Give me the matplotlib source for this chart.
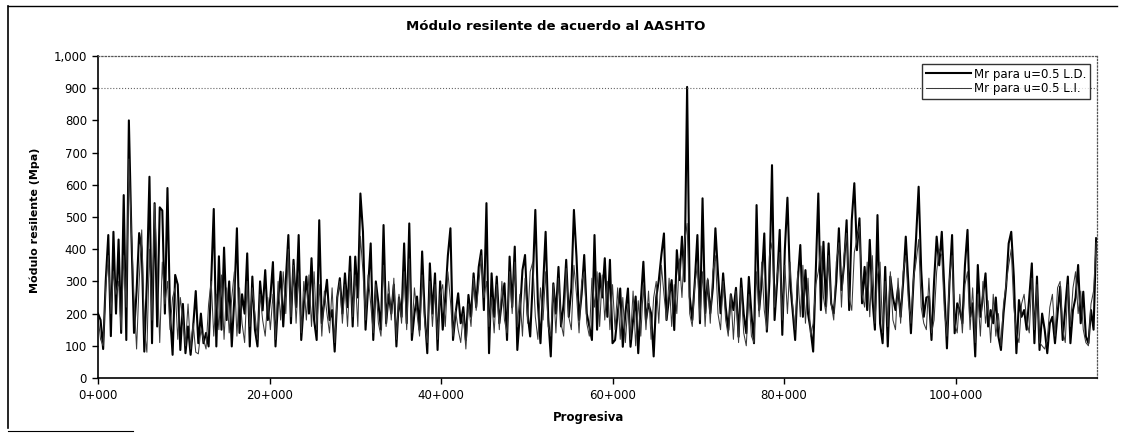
import numpy as np
import matplotlib
matplotlib.use("Agg")
import matplotlib.pyplot as plt
from matplotlib.lines import Line2D
from matplotlib.ticker import FuncFormatter

# Mr values (MPa), one every 300 m of progresiva
step = 300

mr_ld = [
    # 0+000 .. 19+800
    200, 180, 90, 300, 444, 130, 454, 200, 430, 140,
    568, 118, 800, 440, 140, 270, 450, 400, 82, 300,
    625, 108, 543, 160, 530, 520, 200, 590, 200, 72,
    320, 290, 87, 230, 77, 160, 72, 160, 270, 108,
    200, 108, 140, 98, 300, 525, 98, 378, 150, 405,
    180, 300, 98, 250, 465, 140, 260, 200, 387, 98,
    315, 150, 98, 300, 210, 335, 180,
    # 20+100 .. 39+900
    250, 360, 98, 240, 330, 160, 300, 444, 170, 367,
    220, 444, 118, 230, 315, 200, 372, 180, 118, 490,
    170, 240, 305, 180, 211, 82, 250, 310, 200, 325,
    220, 377, 160, 377, 250, 573, 454, 150, 280, 418,
    118, 300, 232, 150, 475, 170, 260, 200, 290, 98,
    250, 190, 418, 170, 480, 118, 200, 253, 150, 393,
    200, 77, 356, 200, 325, 87, 300,
    # 40+200 .. 60+000
    150, 250, 380, 465, 118, 200, 263, 170, 220, 118,
    258, 190, 325, 220, 345, 397, 211, 543, 77, 325,
    190, 315, 170, 240, 294, 118, 377, 220, 408, 87,
    200, 335, 382, 200, 129, 300, 522, 232, 108, 280,
    454, 190, 67, 294, 200, 345, 160, 230, 367, 190,
    280, 522, 377, 180, 260, 382, 200, 160, 118, 444,
    150, 325, 250, 372, 190, 367, 108,
    # 60+300 .. 80+100
    118, 200, 278, 97, 200, 278, 97, 180, 253, 77,
    237, 361, 180, 230, 201, 67, 250, 304, 382, 449,
    180, 250, 304, 149, 397, 304, 439, 300, 904, 253,
    180, 300, 444, 170, 558, 201, 304, 201, 280, 465,
    325, 201, 325, 220, 149, 260, 211, 280, 128, 309,
    200, 139, 314, 200, 108, 537, 211, 300, 449, 144,
    300, 661, 180, 300, 460, 134, 400,
    # 80+400 .. 100+200
    560, 300, 211, 118, 300, 413, 190, 335, 200, 150,
    82, 325, 573, 211, 423, 222, 418, 232, 201, 300,
    465, 273, 350, 490, 211, 490, 605, 397, 496, 232,
    345, 211, 429, 250, 150, 506, 170, 108, 345, 98,
    315, 250, 211, 280, 190, 300, 439, 294, 139, 300,
    434, 594, 335, 190, 250, 253, 118, 300, 439, 350,
    454, 273, 92, 300, 444, 139, 232,
    # 100+500 .. 116+400
    211, 170, 350, 460, 190, 232, 67, 351, 190, 253,
    325, 160, 211, 170, 250, 129, 87, 201, 284, 418,
    454, 315, 77, 242, 190, 211, 150, 250, 356, 108,
    315, 87, 200, 150, 77, 170, 190, 108, 200, 284,
    118, 220, 315, 108, 211, 250, 351, 170, 268, 129,
    108, 211, 150, 434,
]

mr_li = [
    # 0+000 .. 19+800
    190, 120, 100, 280, 380, 200, 330, 260, 300, 150,
    380, 220, 680, 450, 250, 90, 300, 460, 150, 80,
    400, 180, 540, 330, 110, 360, 230, 300, 150, 250,
    280, 120, 250, 180, 100, 230, 90, 170, 80, 75,
    150, 120, 90, 230, 300, 130, 260, 150, 320, 120,
    280, 140, 250, 330, 130, 280, 170, 110, 300, 160,
    280, 200, 120, 260, 180, 130, 250,
    # 20+100 .. 39+900
    150, 260, 120, 300, 180, 330, 200, 400, 190, 350,
    170, 320, 140, 300, 180, 320, 160, 330, 150, 290,
    130, 270, 200, 140, 280, 110, 250, 300, 170, 290,
    160, 330, 190, 320, 160, 440, 330, 180, 320, 230,
    140, 290, 170, 130, 350, 160, 300, 180, 310, 120,
    260, 170, 330, 150, 370, 140, 280, 200, 130, 320,
    170, 110, 300, 160, 290, 120, 260,
    # 40+200 .. 60+000
    290, 160, 330, 240, 130, 210, 150, 110, 200, 90,
    230, 160, 310, 210, 290, 380, 250, 300, 160, 250,
    140, 290, 150, 300, 180, 140, 330, 200, 360, 160,
    260, 130, 310, 170, 330, 360, 190, 120, 280, 180,
    330, 160, 130, 290, 140, 310, 170, 130, 340, 190,
    150, 350, 260, 140, 300, 330, 170, 130, 310, 220,
    330, 160, 320, 180, 300, 150, 290,
    # 60+300 .. 80+100
    150, 280, 120, 250, 110, 230, 120, 270, 100, 240,
    130, 290, 150, 270, 120, 250, 300, 170, 350, 260,
    180, 310, 160, 290, 200, 370, 250, 420, 480, 200,
    160, 290, 350, 180, 330, 160, 310, 170, 330, 380,
    200, 150, 300, 180, 130, 260, 120, 270, 110, 280,
    140, 100, 260, 130, 110, 330, 190, 360, 210, 150,
    380, 420, 220, 320, 390, 180, 350,
    # 80+400 .. 100+200
    200, 360, 230, 150, 330, 190, 350, 170, 310, 130,
    170, 290, 330, 410, 250, 200, 380, 230, 180, 360,
    420, 220, 380, 450, 250, 210, 390, 430, 470, 260,
    220, 360, 190, 380, 170, 320, 360, 140, 300, 160,
    330, 180, 150, 310, 170, 330, 380, 240, 170, 310,
    360, 430, 220, 170, 150, 310, 140, 180, 330, 400,
    380, 210, 130, 310, 380, 170, 140,
    # 100+500 .. 116+400
    260, 140, 290, 330, 150, 280, 110, 260, 130, 300,
    170, 240, 110, 260, 130, 200, 100, 230, 290, 350,
    400, 220, 140, 110, 230, 260, 180, 140, 310, 150,
    290, 110, 100, 90, 120, 220, 260, 130, 280, 300,
    150, 110, 290, 160, 280, 330, 200, 270, 150, 110,
    100, 230, 270, 420,
]

x_ld = np.arange(len(mr_ld)) * step
x_li = np.arange(len(mr_li)) * step

fig = plt.figure(figsize=(11.25, 4.33), dpi=100)
W, H = 1125.0, 433.0
ax = fig.add_axes([98 / W, 1 - 378 / H, (1097 - 98) / W, (378 - 56) / H])

ax.plot(x_ld, mr_ld, color='black', lw=1.5, label='Mr para u=0.5 L.D.')
ax.plot(x_li, mr_li, color='#3a3a3a', lw=0.75, label='Mr para u=0.5 L.I.')

ax.set_xlim(0, 116500)
ax.set_ylim(0, 1000)
ax.axhline(900, color='#666666', lw=0.8, ls=':')

ax.set_yticks(np.arange(0, 1001, 100))
ax.yaxis.set_major_formatter(FuncFormatter(lambda v, p: f'{int(v):,}'))
ax.set_xticks(np.arange(0, 100001, 20000))
ax.xaxis.set_major_formatter(FuncFormatter(lambda v, p: f'{int(v) // 1000}+{int(v) % 1000:03d}'))
ax.tick_params(axis='both', direction='out', length=4, width=1, labelsize=8.5, pad=4)

for s in ['left', 'bottom']:
    ax.spines[s].set_linewidth(1.2)
for s in ['top', 'right']:
    ax.spines[s].set_color('#555555')
    ax.spines[s].set_linestyle(':')
    ax.spines[s].set_linewidth(0.9)

leg = ax.legend(loc='upper right', bbox_to_anchor=(1090 / W, 1 - 64 / H),
                bbox_transform=fig.transFigure, borderaxespad=0, fontsize=8.5,
                frameon=True, fancybox=False, edgecolor='black', handlelength=3.8,
                handletextpad=0.3, borderpad=0.3, labelspacing=0.15)
leg.get_frame().set_linewidth(1.0)

fig.text(556 / W, 1 - 27 / H, 'Módulo resilente de acuerdo al AASHTO',
         ha='center', va='center', fontsize=9.5, fontweight='bold')
fig.text(589 / W, 1 - 417 / H, 'Progresiva', ha='center', va='center',
         fontsize=8.5, fontweight='bold')
fig.text(35 / W, 1 - 220 / H, 'Módulo resilente (Mpa)', ha='center', va='center',
         rotation=90, fontsize=8, fontweight='bold')

# chart area border (partly lost in the scan)
fig.add_artist(Line2D([8 / W, 8 / W], [1 - 428 / H, 1 - 6 / H], transform=fig.transFigure, color='black', lw=1.2))
fig.add_artist(Line2D([8 / W, 1117 / W], [1 - 6 / H, 1 - 6 / H], transform=fig.transFigure, color='black', lw=1.0))
fig.add_artist(Line2D([8 / W, 133 / W], [1 - 431 / H, 1 - 431 / H], transform=fig.transFigure, color='black', lw=0.8))

fig.savefig('out.png', dpi=100)
